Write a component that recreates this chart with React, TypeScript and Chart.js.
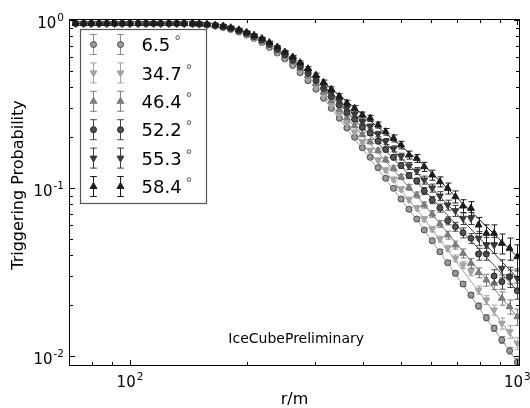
import React, { useEffect, useRef } from "react";
import { Chart, registerables } from "chart.js";
import { drawPoint } from "chart.js/helpers";

Chart.register(...registerables);

const FONT = '"DejaVu Sans", "Liberation Sans", sans-serif';

// Radial distances r/m, ordered from 1000 m inward
const R_M = [1000, 955, 912, 871, 832, 794, 759, 724, 692, 661, 631, 603, 575, 550, 525, 501, 479, 457, 437, 417, 398, 380, 363, 347, 331, 316, 302, 288, 275, 263, 251, 240, 229, 219, 209, 200, 191, 182, 174, 166, 158, 151, 145, 138, 132, 126, 120, 115, 110, 105, 100, 95.5, 91.2, 87.1, 83.2, 79.4, 75.9, 72.4];

const P_6_5 = [0.00918, 0.01076, 0.01246, 0.01462, 0.0169, 0.01984, 0.02306, 0.02682, 0.03106, 0.03591, 0.04176, 0.04855, 0.05624, 0.06539, 0.07467, 0.086, 0.09957, 0.1142, 0.1321, 0.1523, 0.1737, 0.2003, 0.2276, 0.26, 0.2981, 0.3419, 0.3868, 0.4352, 0.4856, 0.536, 0.586, 0.6362, 0.686, 0.7346, 0.776, 0.8141, 0.8483, 0.8779, 0.9023, 0.9211, 0.9338, 0.9428, 0.9467, 0.953, 0.953, 0.953, 0.953, 0.953, 0.953, 0.953, 0.953, 0.953, 0.953, 0.953, 0.953, 0.953, 0.953, 0.953];
const P_34_7 = [0.0119, 0.01395, 0.01565, 0.01878, 0.02154, 0.02471, 0.03175, 0.03479, 0.03815, 0.04376, 0.0497, 0.05701, 0.06539, 0.07603, 0.08541, 0.09862, 0.1127, 0.1281, 0.1468, 0.1676, 0.1884, 0.2154, 0.242, 0.2746, 0.3124, 0.3558, 0.4003, 0.4485, 0.4978, 0.5471, 0.5965, 0.6458, 0.6945, 0.7417, 0.7825, 0.8198, 0.853, 0.8815, 0.906, 0.9237, 0.935, 0.944, 0.9493, 0.953, 0.953, 0.953, 0.953, 0.953, 0.953, 0.953, 0.953, 0.953, 0.953, 0.953, 0.953, 0.953, 0.953, 0.953];
const P_46_4 = [0.01713, 0.01965, 0.02205, 0.02709, 0.02834, 0.03132, 0.03561, 0.04085, 0.04577, 0.05251, 0.06105, 0.07002, 0.07922, 0.09085, 0.1007, 0.1163, 0.131, 0.1474, 0.167, 0.1886, 0.2079, 0.2349, 0.261, 0.2933, 0.3309, 0.3733, 0.4177, 0.4648, 0.513, 0.5616, 0.6089, 0.6575, 0.705, 0.7509, 0.79, 0.8265, 0.8589, 0.8864, 0.9098, 0.9261, 0.9376, 0.9454, 0.9505, 0.953, 0.953, 0.953, 0.953, 0.953, 0.953, 0.953, 0.953, 0.953, 0.953, 0.953, 0.953, 0.953, 0.953, 0.953];
const P_52_2 = [0.02447, 0.02965, 0.02768, 0.02994, 0.04046, 0.04046, 0.05018, 0.05419, 0.05884, 0.06387, 0.07603, 0.08483, 0.09598, 0.1101, 0.1187, 0.1361, 0.1523, 0.1697, 0.1899, 0.2122, 0.2295, 0.2564, 0.2815, 0.3132, 0.3505, 0.3916, 0.4358, 0.4817, 0.5287, 0.5764, 0.6215, 0.6692, 0.7158, 0.7602, 0.7976, 0.8334, 0.8648, 0.8913, 0.9134, 0.9287, 0.9389, 0.9467, 0.9518, 0.953, 0.953, 0.953, 0.953, 0.953, 0.953, 0.953, 0.953, 0.953, 0.953, 0.953, 0.953, 0.953, 0.953, 0.953];
const P_55_3 = [0.029, 0.02965, 0.03327, 0.04577, 0.04577, 0.05018, 0.06602, 0.06602, 0.07327, 0.07922, 0.0896, 0.1, 0.1116, 0.1262, 0.1352, 0.154, 0.1711, 0.1891, 0.2096, 0.2323, 0.2474, 0.2742, 0.2981, 0.33, 0.3662, 0.4064, 0.4504, 0.4957, 0.5412, 0.5875, 0.6318, 0.6785, 0.7236, 0.7676, 0.8042, 0.838, 0.8683, 0.895, 0.916, 0.9313, 0.9414, 0.948, 0.953, 0.953, 0.953, 0.953, 0.953, 0.953, 0.953, 0.953, 0.953, 0.953, 0.953, 0.953, 0.953, 0.953, 0.953, 0.953];
const P_58_4 = [0.03899, 0.04376, 0.04686, 0.05373, 0.05373, 0.06022, 0.07572, 0.07816, 0.08876, 0.09957, 0.109, 0.1195, 0.1339, 0.1502, 0.1572, 0.1803, 0.1976, 0.2163, 0.2371, 0.26, 0.272, 0.2981, 0.3206, 0.3514, 0.3868, 0.4258, 0.4686, 0.513, 0.557, 0.6022, 0.6449, 0.6907, 0.7346, 0.776, 0.812, 0.8449, 0.8743, 0.8999, 0.9198, 0.9338, 0.9428, 0.9493, 0.953, 0.953, 0.953, 0.953, 0.953, 0.953, 0.953, 0.953, 0.953, 0.953, 0.953, 0.953, 0.953, 0.953, 0.953, 0.953];

// Statistical uncertainties (absolute)
const E_6_5 = [0.0005, 0.0005, 0.0006, 0.0006, 0.0007, 0.0008, 0.0008, 0.0009, 0.0011, 0.0011, 0.0013, 0.0013, 0.0015, 0.0018, 0.002, 0.0024, 0.0027, 0.0028, 0.0033, 0.0037, 0.004, 0.0043, 0.0046, 0.005, 0.0055, 0.006, 0.006, 0.006, 0.006, 0.006, 0.006, 0.006, 0.0058, 0.0055, 0.005, 0.0045, 0.004, 0.0035, 0.003, 0.003, 0.0027, 0.0025, 0.0025, 0.0025, 0.0025, 0.0025, 0.0025, 0.0025, 0.0025, 0.0025, 0.0025, 0.0025, 0.0025, 0.0025, 0.0025, 0.0025, 0.0025, 0.0025];
const E_34_7 = [0.001, 0.0012, 0.0012, 0.0013, 0.0013, 0.0014, 0.0017, 0.0017, 0.0018, 0.0018, 0.002, 0.0022, 0.0023, 0.0026, 0.0028, 0.0031, 0.0034, 0.0037, 0.004, 0.0046, 0.005, 0.0053, 0.0056, 0.006, 0.0063, 0.0066, 0.007, 0.007, 0.007, 0.007, 0.007, 0.007, 0.0065, 0.006, 0.0056, 0.005, 0.0045, 0.004, 0.0036, 0.0032, 0.003, 0.0025, 0.0025, 0.0025, 0.0025, 0.0025, 0.0025, 0.0025, 0.0025, 0.0025, 0.0025, 0.0025, 0.0025, 0.0025, 0.0025, 0.0025, 0.0025, 0.0025];
const E_46_4 = [0.0019, 0.0019, 0.002, 0.0022, 0.0023, 0.0021, 0.0024, 0.0025, 0.0025, 0.0029, 0.0029, 0.0032, 0.0033, 0.0037, 0.0039, 0.0041, 0.0045, 0.0048, 0.0053, 0.0057, 0.006, 0.0063, 0.0066, 0.007, 0.0075, 0.008, 0.008, 0.008, 0.008, 0.008, 0.008, 0.008, 0.0075, 0.007, 0.0065, 0.006, 0.0055, 0.005, 0.0045, 0.004, 0.0035, 0.003, 0.003, 0.003, 0.003, 0.003, 0.003, 0.003, 0.003, 0.003, 0.003, 0.003, 0.003, 0.003, 0.003, 0.003, 0.003, 0.003];
const E_52_2 = [0.0027, 0.0028, 0.0027, 0.0027, 0.0033, 0.0033, 0.0034, 0.0037, 0.0036, 0.0035, 0.0042, 0.0041, 0.0046, 0.0045, 0.0049, 0.0052, 0.0054, 0.0058, 0.0062, 0.0067, 0.007, 0.0073, 0.0076, 0.008, 0.0085, 0.009, 0.009, 0.009, 0.009, 0.009, 0.009, 0.009, 0.0085, 0.008, 0.0075, 0.007, 0.006, 0.005, 0.005, 0.004, 0.004, 0.0035, 0.0035, 0.0035, 0.0035, 0.0035, 0.0035, 0.0035, 0.0035, 0.0035, 0.0035, 0.0035, 0.0035, 0.0035, 0.0035, 0.0035, 0.0035, 0.0035];
const E_55_3 = [0.004, 0.0041, 0.0041, 0.005, 0.005, 0.0048, 0.0054, 0.0054, 0.0055, 0.0054, 0.0055, 0.0055, 0.0061, 0.006, 0.0065, 0.007, 0.007, 0.0078, 0.008, 0.0083, 0.0085, 0.009, 0.0095, 0.01, 0.01, 0.011, 0.011, 0.011, 0.011, 0.011, 0.011, 0.011, 0.01, 0.01, 0.009, 0.008, 0.007, 0.006, 0.006, 0.005, 0.005, 0.004, 0.004, 0.004, 0.004, 0.004, 0.004, 0.004, 0.004, 0.004, 0.004, 0.004, 0.004, 0.004, 0.004, 0.004, 0.004, 0.004];
const E_58_4 = [0.0069, 0.0066, 0.0064, 0.0066, 0.0066, 0.0066, 0.0073, 0.007, 0.0073, 0.0075, 0.0075, 0.0082, 0.0083, 0.0082, 0.0086, 0.0094, 0.0095, 0.0098, 0.0097, 0.0107, 0.0112, 0.011, 0.012, 0.012, 0.013, 0.013, 0.014, 0.014, 0.014, 0.014, 0.014, 0.014, 0.013, 0.012, 0.011, 0.01, 0.009, 0.008, 0.007, 0.006, 0.006, 0.005, 0.005, 0.005, 0.005, 0.005, 0.005, 0.005, 0.005, 0.005, 0.005, 0.005, 0.005, 0.005, 0.005, 0.005, 0.005, 0.005];

// Fitted lateral distribution lines
const FIT_R = [316, 562, 1000];
const FIT_6_5 = [0.342, 0.0606, 0.00918];
const FIT_34_7 = [0.356, 0.07, 0.0119];
const FIT_46_4 = [0.373, 0.0848, 0.0171];
const FIT_52_2 = [0.392, 0.1028, 0.0245];
const FIT_55_3 = [0.406, 0.1179, 0.0292];
const FIT_58_4 = [0.426, 0.1428, 0.039];

const ZENITH_LABELS = ["6.5", "34.7", "46.4", "52.2", "55.3", "58.4"];

const X_MAJOR = [100, 1000];
const X_MAJOR_EXP = ["2", "3"];
const X_MINOR = [80, 90, 200, 300, 400, 500, 600, 700, 800, 900];
const Y_MAJOR = [0.01, 0.1, 1];
const Y_MAJOR_EXP = ["-2", "-1", "0"];
const Y_MINOR = [0.02, 0.03, 0.04, 0.05, 0.06, 0.07, 0.08, 0.09, 0.2, 0.3, 0.4, 0.5, 0.6, 0.7, 0.8, 0.9];

const X_TITLE = "r/m";
const Y_TITLE = "Triggering Probability";
const WATERMARK = "IceCubePreliminary";

const SERIES = [
  { p: P_6_5, e: E_6_5, fit: FIT_6_5 },
  { p: P_34_7, e: E_34_7, fit: FIT_34_7 },
  { p: P_46_4, e: E_46_4, fit: FIT_46_4 },
  { p: P_52_2, e: E_52_2, fit: FIT_52_2 },
  { p: P_55_3, e: E_55_3, fit: FIT_55_3 },
  { p: P_58_4, e: E_58_4, fit: FIT_58_4 },
];

const STYLES = [
  { style: "circle", rot: 0, radius: 3, fill: "#9a9a9a", edge: "#4a4a4a", bar: "#8c8c8c", line: "#9a9a9a" },
  { style: "triangle", rot: 180, radius: 4, fill: "#a3a3a3", edge: "#a3a3a3", bar: "#a3a3a3", line: "#a3a3a3" },
  { style: "triangle", rot: 0, radius: 4, fill: "#7c7c7c", edge: "#7c7c7c", bar: "#7c7c7c", line: "#7c7c7c" },
  { style: "circle", rot: 0, radius: 3, fill: "#525252", edge: "#222222", bar: "#444444", line: "#505050" },
  { style: "triangle", rot: 180, radius: 4, fill: "#3a3a3a", edge: "#3a3a3a", bar: "#3a3a3a", line: "#3a3a3a" },
  { style: "triangle", rot: 0, radius: 4, fill: "#1c1c1c", edge: "#1c1c1c", bar: "#1c1c1c", line: "#1c1c1c" },
];

function drawErrorBar(ctx: CanvasRenderingContext2D, x: number, y1: number, y2: number, cap: number) {
  ctx.beginPath();
  ctx.moveTo(x, y1);
  ctx.lineTo(x, y2);
  ctx.moveTo(x - cap, y1);
  ctx.lineTo(x + cap, y1);
  ctx.moveTo(x - cap, y2);
  ctx.lineTo(x + cap, y2);
  ctx.stroke();
}

const decor = {
  id: "decor",
  beforeDatasetDraw(chart: any, args: any) {
    const ds = chart.data.datasets[args.index];
    if (!ds.errors) return;
    const ctx = chart.ctx as CanvasRenderingContext2D;
    const ys = chart.scales.y;
    const a = chart.chartArea;
    ctx.save();
    ctx.beginPath();
    ctx.rect(a.left, a.top, a.right - a.left, a.bottom - a.top);
    ctx.clip();
    ctx.strokeStyle = ds.barColor;
    ctx.lineWidth = 1;
    args.meta.data.forEach((pt: any, i: number) => {
      const v = ds.data[i].y;
      const e = ds.errors[i];
      const x = Math.round(pt.x) + 0.5;
      const y1 = ys.getPixelForValue(v + e);
      const y2 = ys.getPixelForValue(Math.max(v - e, 1e-4));
      drawErrorBar(ctx, x, y1, y2, 3);
    });
    ctx.restore();
  },
  afterDraw(chart: any) {
    const ctx = chart.ctx as CanvasRenderingContext2D;
    const a = chart.chartArea;
    const xs = chart.scales.x;
    const ys = chart.scales.y;
    ctx.save();
    // frame
    ctx.strokeStyle = "#000";
    ctx.lineWidth = 1;
    ctx.strokeRect(a.left - 0.5, a.top - 0.5, a.right - a.left + 1, a.bottom - a.top + 1);
    // ticks (inward on all four sides)
    ctx.beginPath();
    const xt = (v: number, len: number) => {
      const px = Math.round(xs.getPixelForValue(v)) + 0.5;
      ctx.moveTo(px, a.bottom);
      ctx.lineTo(px, a.bottom - len);
      ctx.moveTo(px, a.top);
      ctx.lineTo(px, a.top + len);
    };
    const yt = (v: number, len: number) => {
      const py = Math.round(ys.getPixelForValue(v)) + 0.5;
      ctx.moveTo(a.left, py);
      ctx.lineTo(a.left + len, py);
      ctx.moveTo(a.right, py);
      ctx.lineTo(a.right - len, py);
    };
    X_MAJOR.forEach((v) => xt(v, 5));
    X_MINOR.forEach((v) => xt(v, 3));
    Y_MAJOR.forEach((v) => yt(v, 5));
    Y_MINOR.forEach((v) => yt(v, 3));
    ctx.stroke();

    // tick labels with exponents
    ctx.fillStyle = "#000";
    ctx.textBaseline = "alphabetic";
    ctx.textAlign = "left";
    const pow = (exp: string, x: number, y: number, align: string) => {
      ctx.font = `15px ${FONT}`;
      const wb = ctx.measureText("10").width;
      ctx.font = `10.5px ${FONT}`;
      const we = ctx.measureText(exp).width;
      const total = wb + we + 1;
      const sx = align === "right" ? x - total : x - total / 2;
      ctx.font = `15px ${FONT}`;
      ctx.fillText("10", sx, y);
      ctx.font = `10.5px ${FONT}`;
      ctx.fillText(exp, sx + wb + 1, y - 7);
    };
    X_MAJOR.forEach((v, i) => pow(X_MAJOR_EXP[i], xs.getPixelForValue(v), 387, "center"));
    Y_MAJOR.forEach((v, i) => pow(Y_MAJOR_EXP[i], 64, ys.getPixelForValue(v) + 7.5, "right"));

    // axis titles
    ctx.font = `16px ${FONT}`;
    ctx.textAlign = "center";
    ctx.fillText(X_TITLE, (a.left + a.right) / 2, 404);
    ctx.save();
    ctx.translate(23, 185);
    ctx.rotate(-Math.PI / 2);
    ctx.fillText(Y_TITLE, 0, 0);
    ctx.restore();

    // watermark
    ctx.font = `14px ${FONT}`;
    ctx.textAlign = "right";
    ctx.fillText(WATERMARK, 364, 343);

    // legend
    const lx = 80.5, ly = 29.5, lw = 126, lh = 174;
    ctx.fillStyle = "#fff";
    ctx.fillRect(lx, ly, lw, lh);
    ctx.strokeStyle = "#555";
    ctx.lineWidth = 1.2;
    ctx.strokeRect(lx, ly, lw, lh);
    ZENITH_LABELS.forEach((lab, i) => {
      const st = STYLES[i];
      const cy = 44.5 + 28.4 * i;
      [93.5, 120.5].forEach((mx) => {
        ctx.strokeStyle = st.bar;
        ctx.lineWidth = 1;
        drawErrorBar(ctx, mx, cy - 10, cy + 10, 3.3);
        ctx.fillStyle = st.fill;
        ctx.strokeStyle = st.edge;
        drawPoint(ctx, { pointStyle: st.style as any, rotation: st.rot, radius: st.radius, borderWidth: 1 }, mx, cy);
      });
      ctx.fillStyle = "#000";
      ctx.textAlign = "left";
      ctx.textBaseline = "alphabetic";
      ctx.font = `18px ${FONT}`;
      ctx.fillText(lab, 141.5, cy + 6.6);
      const w = ctx.measureText(lab).width;
      ctx.font = `14px ${FONT}`;
      ctx.fillStyle = "#555";
      ctx.textBaseline = "middle";
      ctx.fillText("\u2218", 141.5 + w + 3, cy - 6);
      ctx.textBaseline = "alphabetic";
    });
    ctx.restore();
  },
};

export default function App() {
  const ref = useRef<HTMLCanvasElement | null>(null);
  useEffect(() => {
    document.body.style.margin = "0";
    const canvas = ref.current;
    if (!canvas) return;
    const datasets: any[] = [];
    SERIES.forEach((s, i) => {
      const st = STYLES[i];
      datasets.push({
        type: "line",
        data: FIT_R.map((r, j) => ({ x: r, y: s.fit[j] })),
        borderColor: st.line,
        borderWidth: 1,
        pointRadius: 0,
        fill: false,
        tension: 0,
        order: 100 + i,
      });
    });
    SERIES.forEach((s, i) => {
      const st = STYLES[i];
      datasets.push({
        type: "line",
        data: R_M.map((r, j) => ({ x: r, y: s.p[j] })),
        showLine: false,
        pointStyle: st.style,
        pointRotation: st.rot,
        pointRadius: st.radius,
        pointBackgroundColor: st.fill,
        pointBorderColor: st.edge,
        pointBorderWidth: 1,
        backgroundColor: st.fill,
        borderColor: st.edge,
        errors: s.e,
        barColor: st.bar,
        order: 5 - i,
      });
    });
    const chart = new Chart(canvas, {
      type: "line",
      data: { datasets },
      plugins: [decor],
      options: {
        responsive: false,
        devicePixelRatio: 1,
        animation: false,
        layout: { padding: { left: 70, top: 20, right: 11, bottom: 43 } },
        scales: {
          x: { type: "logarithmic", min: 70, max: 1010, display: false },
          y: { type: "logarithmic", min: 0.00884, max: 1.0, display: false },
        },
        plugins: { legend: { display: false }, tooltip: { enabled: false } },
      } as any,
    });
    return () => chart.destroy();
  }, []);
  return <canvas ref={ref} width={530} height={408} style={{ display: "block" }} />;
}
